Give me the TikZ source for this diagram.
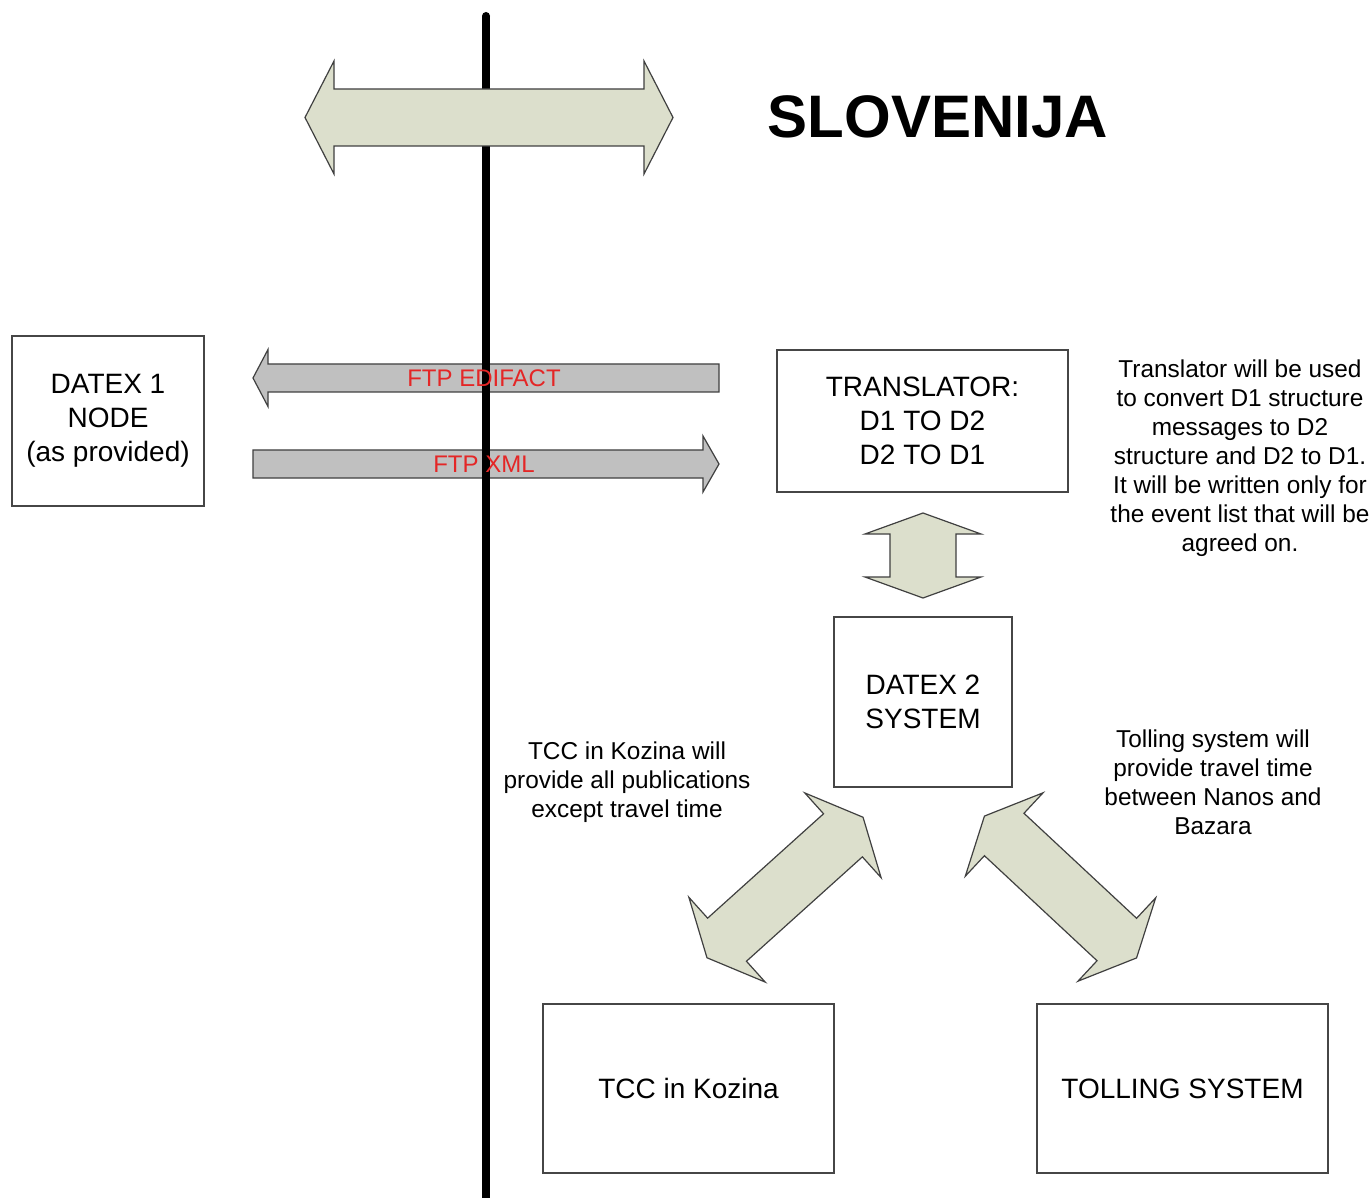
\documentclass[tikz,border=0pt]{standalone}
\usepackage{fontspec}
\setmainfont{Liberation Sans}
\definecolor{arrowfill}{RGB}{220,223,204}
\definecolor{ftpfill}{RGB}{192,192,192}
\definecolor{ftpred}{RGB}{228,38,38}
\definecolor{boxline}{RGB}{70,70,70}
\newcommand{\blockarrow}[4]{(-#1,0) -- (-#1+#2,#4) -- (-#1+#2,#3) -- (#1-#2,#3) -- (#1-#2,#4) -- (#1,0) -- (#1-#2,-#4) -- (#1-#2,-#3) -- (-#1+#2,-#3) -- (-#1+#2,-#4) -- cycle}

\begin{document}
\begin{tikzpicture}[x=0.5pt, y=-0.5pt,
	box/.style={draw=boxline, line width=0.75pt, fill=white, align=center, font=\fontsize{14}{17}\selectfont, inner sep=0pt},
	note/.style={align=center, font=\fontsize{12.2}{14.5}\selectfont, inner sep=0pt},
	fat/.style={draw=black!75, line width=0.6pt, fill=arrowfill},
	ftp/.style={draw=black!75, line width=0.6pt, fill=ftpfill},
	border/.style={line width=4pt},
	ftplabel/.style={text=ftpred, font=\fontsize{12}{14}\selectfont, inner sep=0pt}]
	\useasboundingbox (0,0) rectangle (1372,1198);
	\fill[white] (0,0) rectangle (1372,1198);
	\draw[ftp] (253,378) -- (268,349.5) -- (268,364) -- (719,364) -- (719,392) -- (268,392) -- (268,406.5) -- cycle;
	\draw[ftp] (253,450) -- (703,450) -- (703,436) -- (719,464) -- (703,492) -- (703,478) -- (253,478) -- cycle;
	\fill (486,16) circle (4);
	\draw[border] (486,16) -- (486,89) (486,146) -- (486,1204);
	\begin{scope}[shift={(489,117.5)}]
		\filldraw[fat] \blockarrow{184}{29}{28.5}{56.5};
	\end{scope}
	\node[font=\fontsize{30}{36}\selectfont\bfseries] (title) at (938,117) {SLOVENIJA};
	\node[box, minimum width=96pt, minimum height=85pt] (datex_one) at (108,421) {DATEX 1\\NODE\\(as provided)};
	\node[box, minimum width=145.5pt, minimum height=71pt] (translator) at (922.5,421) {TRANSLATOR:\\D1 TO D2\\D2 TO D1};
	\node[box, minimum width=89pt, minimum height=85pt] (datex_two) at (923,702) {DATEX 2\\SYSTEM};
	\node[box, minimum width=145.5pt, minimum height=84.5pt] (tcc) at (688.5,1088.5) {TCC in Kozina};
	\node[box, minimum width=145.5pt, minimum height=84.5pt] (tolling) at (1182.5,1088.5) {TOLLING SYSTEM};
	\begin{scope}[shift={(923,555.5)}, rotate=90]
		\filldraw[fat] \blockarrow{42.5}{21}{33}{58};
	\end{scope}
	\begin{scope}[shift={(785,887.5)}, rotate=42]
		\filldraw[fat] \blockarrow{105}{27}{29}{57};
	\end{scope}
	\begin{scope}[shift={(1060.5,887)}, rotate=-43]
		\filldraw[fat] \blockarrow{104}{27}{29}{57};
	\end{scope}
	\node[ftplabel] (edifact) at (484,378) {FTP EDIFACT};
	\node[ftplabel] (xml) at (484,464) {FTP XML};
	\node[note] (translator_note) at (1240,458) {Translator will be used\\to convert D1 structure\\messages to D2\\structure and D2 to D1.\\It will be written only for\\the event list that will be\\agreed on.};
	\node[note] (tcc_note) at (627,782) {TCC in Kozina will\\provide all publications\\except travel time};
	\node[note] (tolling_note) at (1213,782) {Tolling system will\\provide travel time\\between Nanos and\\Bazara};
\end{tikzpicture}
\end{document}
